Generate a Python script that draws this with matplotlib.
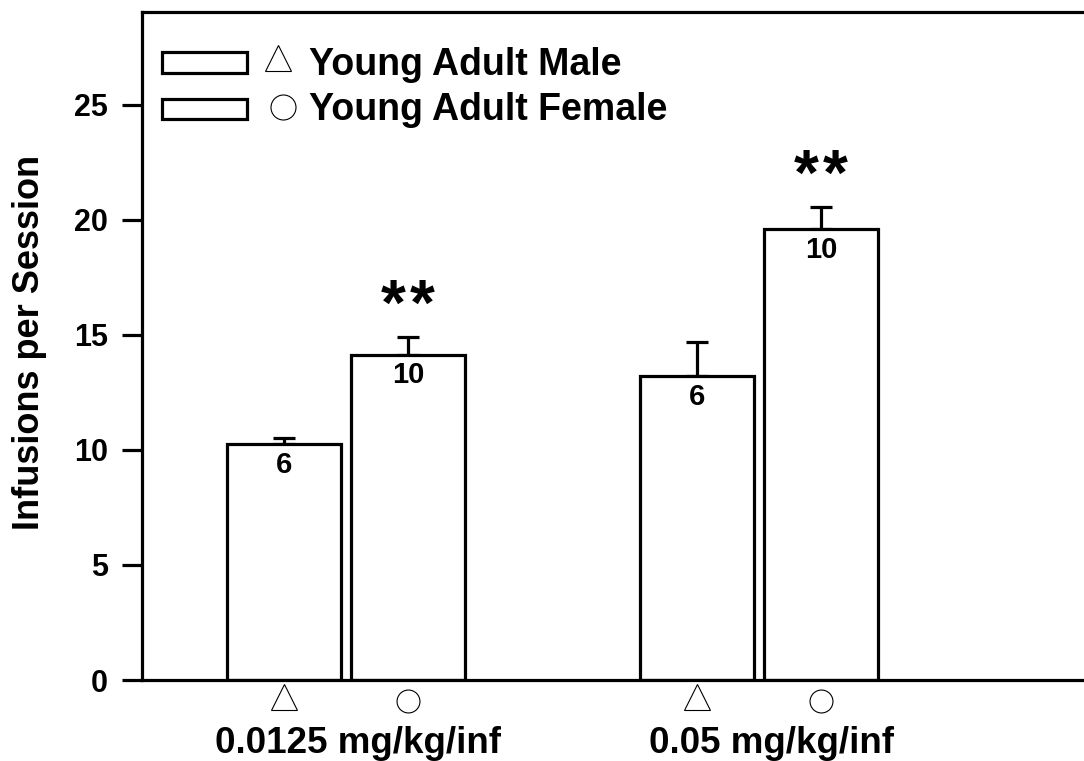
import numpy as np
import matplotlib
matplotlib.use("Agg")
import matplotlib.pyplot as plt
from matplotlib.patches import Rectangle
import matplotlib.transforms as mtransforms

plt.rcParams['font.family'] = ['Liberation Sans', 'DejaVu Sans']
plt.rcParams['font.weight'] = 'bold'

# data
doses = ["0.0125 mg/kg/inf", "0.05 mg/kg/inf"]
groups = ["Young Adult Male", "Young Adult Female"]
male_mean = [10.25, 13.2]
male_sem = [0.28, 1.5]
female_mean = [14.15, 19.6]
female_sem = [0.75, 0.95]
male_n = ["6", "6"]
female_n = ["10", "10"]
male_sig = [0, 0]
female_sig = [2, 2]   # number of asterisks

x = np.arange(len(doses))
off = 0.150
w = 0.274
lw = 2.3

fig = plt.figure(figsize=(10.84, 7.61), dpi=100)
ax = fig.add_axes([142/1084, 1 - 680/761, 942/1084, 668/761])

for means, sems, ns, sigs, dx, mk in [
        (male_mean, male_sem, male_n, male_sig, -off, '^'),
        (female_mean, female_sem, female_n, female_sig, off, 'o')]:
    xs = x + dx
    ax.errorbar(xs, means, yerr=[np.zeros(len(sems)), sems], fmt='none',
                ecolor='black', elinewidth=lw, capsize=8, capthick=lw, zorder=1)
    ax.bar(xs, means, width=w, facecolor='white', edgecolor='black',
           linewidth=lw, zorder=2)
    for xi, m, s, n, sg in zip(xs, means, sems, ns, sigs):
        ax.text(xi, m - 0.3, n, ha='center', va='top', fontsize=21,
                fontweight='bold', zorder=3)
        # asterisks, spaced a little apart
        for k in range(sg):
            dpt = (k - (sg - 1) / 2) * 20.6
            tr = mtransforms.offset_copy(ax.transData, fig=fig, x=dpt, y=0,
                                         units='points')
            ax.text(xi, m + s + 0.55, "*", ha='center', va='baseline',
                    fontsize=46, fontweight='bold', transform=tr)
    # symbols under the bars
    trans = mtransforms.blended_transform_factory(ax.transData, ax.transAxes)
    yy = -0.026 if mk == '^' else -0.031
    ms = 19 if mk == '^' else 16.5
    ax.plot(xs, [yy] * len(xs), linestyle='none', marker=mk, markersize=ms,
            markerfacecolor='white', markeredgecolor='black',
            markeredgewidth=0.8, transform=trans, clip_on=False)

trans = mtransforms.blended_transform_factory(ax.transData, ax.transAxes)
for xi, d in zip(x, doses):
    ax.text(xi + 0.03, -0.109, d, ha='center', va='baseline', fontsize=26.5,
            fontweight='bold', transform=trans)

ax.set_xlim(-0.494, 1.787)
ax.set_ylim(0, 29.04)
ax.set_xticks([])
ax.set_yticks([0, 5, 10, 15, 20, 25])
ax.tick_params(axis='y', direction='out', length=14.4, width=lw, pad=10,
               labelsize=22)
for lab in ax.get_yticklabels():
    lab.set_fontweight('bold')
ax.spines['right'].set_visible(False)
for sp in ['left', 'bottom', 'top']:
    ax.spines[sp].set_linewidth(lw)

ax.set_ylabel("Infusions per Session", fontsize=26, fontweight='bold')
ax.yaxis.set_label_coords(-0.1008, 0.506)

# legend drawn by hand
rows = [(0.909, 0.9057, '^', 0.1444, 0.931, 19),
        (0.8394, 0.8383, 'o', 0.1497, 0.8578, 18)]
for (ry, ty, mk, mx, my, ms), g in zip(rows, groups):
    ax.add_patch(Rectangle((0.0212, ry), 0.0903, 0.031, transform=ax.transAxes,
                           facecolor='white', edgecolor='black', linewidth=lw,
                           clip_on=False))
    ax.plot([mx], [my], marker=mk, markersize=ms, markerfacecolor='white',
            markeredgecolor='black', markeredgewidth=0.8,
            transform=ax.transAxes, clip_on=False)
    ax.text(0.1773, ty, g, transform=ax.transAxes, ha='left', va='baseline',
            fontsize=27, fontweight='bold')

fig.savefig("out.png", dpi=100)
